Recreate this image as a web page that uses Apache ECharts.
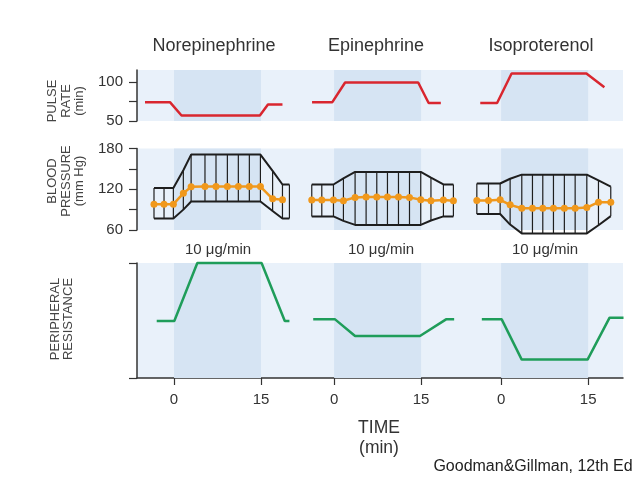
<!DOCTYPE html>
<html><head><meta charset="utf-8">
<script src="https://cdn.jsdelivr.net/npm/echarts@6/dist/echarts.min.js"></script>
<style>html,body{margin:0;padding:0;background:#fff}#c{width:640px;height:480px}</style>
</head><body><div id="c"></div>
<script>
// ---------- data ----------
const drugs = ['Norepinephrine', 'Epinephrine', 'Isoproterenol'];
const doseLabel = '10 μg/min';
const infusion = [0, 15];              // minutes (shaded infusion window)
const timeTickLabels = ['0', '15'];
const pulseTicks = [50, 75, 100];
const pulseLabels = [50, 100];
const bpTicks = [60, 90, 120, 150, 180];
const bpLabels = [60, 120, 180];

// pulse rate (beats/min)
const pulseTime = [
  [-5, -0.7, 1.3, 14.8, 16.2, 18.7],
  [-3.8, -0.3, 1.9, 14.5, 16.3, 18.4],
  [-3.6, -0.7, 1.8, 14.7, 17.8]
];
const pulseRate = [
  [74, 74, 57, 57, 71, 71],
  [74, 74, 99, 99, 73, 73],
  [73, 73, 110.5, 110.5, 93]
];

// blood pressure (mm Hg): systolic, diastolic, mean
const bpTime = [
  [-3.45, -1.72, -0.11, 1.61, 2.95, 5.34, 7.24, 9.2, 11.09, 12.99, 14.9, 17.0, 18.7, 19.9],
  [-3.85, -2.12, -0.11, 1.61, 3.62, 5.52, 7.36, 9.2, 11.1, 13.0, 14.94, 16.7, 18.85, 20.57],
  [-4.19, -2.18, -0.17, 1.55, 3.56, 5.4, 7.18, 9.02, 10.9, 12.76, 14.77, 16.78, 18.9]
];
const bpSystolic = [
  [122, 122, 122, 148, 171, 171, 171, 171, 171, 171, 171, 147, 127, 127],
  [127, 127, 127, 136, 145.5, 145.5, 145.5, 145.5, 145.5, 145.5, 145.5, 137, 127, 127],
  [128.5, 128.5, 128.5, 135.5, 141.5, 141.5, 141.5, 141.5, 141.5, 141.5, 141.5, 133, 124]
];
const bpDiastolic = [
  [77, 77, 77, 90, 102, 102, 102, 102, 102, 102, 102, 88, 77, 77],
  [80, 80, 80, 73.5, 67.5, 67.5, 67.5, 67.5, 67.5, 67.5, 67.5, 74, 80, 80],
  [83.5, 83.5, 83.5, 68, 55, 55, 55, 55, 55, 55, 55, 67, 80.5]
];
const bpMean = [
  [98, 98, 98, 114, 123.5, 124, 124, 124, 124, 124, 124, 106, 104.5, null],
  [104, 104, 104, 103, 108, 108.5, 108.5, 108.5, 108.5, 108, 104.5, 103, 104, 103],
  [103.5, 103.5, 104.5, 97, 92, 92, 92, 92, 92, 92, 93, 101, 101]
];

// peripheral resistance (relative units, 0-100)
const prTime = [
  [-2.98, 0.05, 4.02, 15.1, 19.1, 19.9],
  [-3.6, 0.17, 3.62, 14.8, 19.3, 20.7],
  [-3.33, 0.1, 3.55, 14.9, 18.7, 21.1]
];
const prValue = [
  [49.5, 49.5, 100, 100, 49.5, 49.5],
  [51, 51, 36.5, 36.5, 51, 51],
  [51, 51, 16, 16, 52.5, 52.5]
];

// ---------- layout ----------
const columnOffset = [0, 27.6, 56.4];   // panel placement along the shared time axis
const X_MIN = -6.38, X_MAX = 77.41;
const FONT = '"Liberation Sans", Arial, Helvetica, sans-serif';
const TXT = '#333';
const C_PULSE = '#d9262f', C_PR = '#1f9d5a', C_MEAN = '#f0981c', C_BOX = '#1e1e1e';
const BG = '#e9f1fa', BG_DARK = '#d6e4f3';

const xTickVals = [], xTickText = [];
columnOffset.forEach(o => infusion.forEach((t, i) => { xTickVals.push(o + t); xTickText.push(timeTickLabels[i]); }));

const grids = [
  { left: 137, width: 486, top: 70, height: 51 },
  { left: 137, width: 486, top: 148.5, height: 81.5 },
  { left: 137, width: 486, top: 263, height: 115 }
].map(g => Object.assign({ show: true, backgroundColor: BG, borderWidth: 0 }, g));

const xAxes = [0, 1, 2].map(i => ({
  type: 'value', gridIndex: i, min: X_MIN, max: X_MAX, show: i === 2,
  splitLine: { show: false },
  axisLine: { show: true, onZero: false, lineStyle: { color: TXT, width: 1.5 } },
  axisTick: { show: true, customValues: xTickVals, length: 7, lineStyle: { color: TXT, width: 1.2 } },
  axisLabel: {
    customValues: xTickVals, margin: 14, color: TXT, fontSize: 15, fontFamily: FONT,
    formatter: v => { const k = xTickVals.findIndex(x => Math.abs(x - v) < 1e-6); return k >= 0 ? xTickText[k] : ''; }
  }
}));

function yAx(i, min, max, ticks, labels) {
  return {
    type: 'value', gridIndex: i, min: min, max: max, position: 'left',
    splitLine: { show: false },
    axisLine: { show: true, onZero: false, lineStyle: { color: TXT, width: 1.5 } },
    axisTick: { show: true, customValues: ticks, length: 8, lineStyle: { color: TXT, width: 1.2 } },
    axisLabel: { show: labels.length > 0, customValues: labels.length ? labels : [min], margin: 14, color: TXT, fontSize: 15, fontFamily: FONT }
  };
}
const yAxes = [
  yAx(0, 50, 115, pulseTicks, pulseLabels),
  yAx(1, 60, 180, bpTicks, bpLabels),
  yAx(2, 0, 100, [0, 100], [])
];

const series = [];
const shade = columnOffset.map(o => [{ xAxis: o + infusion[0] }, { xAxis: o + infusion[1] }]);
[0, 1, 2].forEach(g => series.push({
  type: 'line', xAxisIndex: g, yAxisIndex: g, data: [], silent: true,
  markArea: { silent: true, itemStyle: { color: BG_DARK }, data: shade }
}));

drugs.forEach((d, c) => {
  const o = columnOffset[c];
  series.push({
    type: 'line', name: d + ' pulse', xAxisIndex: 0, yAxisIndex: 0, symbol: 'none', clip: false,
    lineStyle: { color: C_PULSE, width: 2.5 },
    data: pulseTime[c].map((t, k) => [t + o, pulseRate[c][k]])
  });
  series.push({
    type: 'custom', name: d + ' pulse pressure', xAxisIndex: 1, yAxisIndex: 1,
    encode: { x: 0, y: [1, 2] },
    renderItem: (params, api) => {
      const a = api.coord([api.value(0), api.value(1)]);
      const b = api.coord([api.value(0), api.value(2)]);
      return { type: 'line', shape: { x1: a[0], y1: a[1], x2: b[0], y2: b[1] }, style: { stroke: C_BOX, lineWidth: 1.2 } };
    },
    data: bpTime[c].map((t, k) => [t + o, bpSystolic[c][k], bpDiastolic[c][k]])
  });
  series.push({
    type: 'line', name: d + ' systolic', xAxisIndex: 1, yAxisIndex: 1, symbol: 'none', clip: false,
    lineStyle: { color: C_BOX, width: 2 },
    data: bpTime[c].map((t, k) => [t + o, bpSystolic[c][k]])
  });
  series.push({
    type: 'line', name: d + ' diastolic', xAxisIndex: 1, yAxisIndex: 1, symbol: 'none', clip: false,
    lineStyle: { color: C_BOX, width: 2 },
    data: bpTime[c].map((t, k) => [t + o, bpDiastolic[c][k]])
  });
  series.push({
    type: 'line', name: d + ' mean', xAxisIndex: 1, yAxisIndex: 1, clip: false,
    symbol: 'circle', symbolSize: 7, showAllSymbol: true, connectNulls: false,
    lineStyle: { color: C_MEAN, width: 2.5 }, itemStyle: { color: C_MEAN },
    data: bpTime[c].map((t, k) => [t + o, bpMean[c][k]]).filter(p => p[1] !== null),
    z: 4
  });
  series.push({
    type: 'line', name: d + ' resistance', xAxisIndex: 2, yAxisIndex: 2, symbol: 'none', clip: false,
    lineStyle: { color: C_PR, width: 2.5 },
    data: prTime[c].map((t, k) => [t + o, prValue[c][k]])
  });
});

function txt(x, y, s, size, extra) {
  return Object.assign({
    type: 'text', x: x, y: y, silent: true,
    style: Object.assign({ text: s, fill: TXT, font: size + 'px ' + FONT, align: 'center', verticalAlign: 'middle' }, extra || {})
  });
}
const graphics = [
  txt(214, 46, drugs[0], 18), txt(376, 46, drugs[1], 18), txt(541, 46, drugs[2], 18),
  txt(218, 250, doseLabel, 15), txt(381, 250, doseLabel, 15), txt(545, 250, doseLabel, 15),
  txt(379, 428, 'TIME', 17.5), txt(379, 448, '(min)', 17.5),
  txt(533, 467, 'Goodman&Gillman, 12th Ed', 16, { fill: '#222' })
];
[['PULSE\nRATE\n(min)', 66, 101], ['BLOOD\nPRESSURE\n(mm Hg)', 66, 181], ['PERIPHERAL\nRESISTANCE', 62, 319]].forEach(r => {
  const t = txt(r[1], r[2], r[0], 13, { lineHeight: 13.5, fill: '#444' });
  t.rotation = Math.PI / 2;
  graphics.push(t);
});

const chart = echarts.init(document.getElementById('c'), null, { renderer: 'canvas' });
chart.setOption({
  animation: false,
  backgroundColor: '#fff',
  grid: grids, xAxis: xAxes, yAxis: yAxes, series: series,
  graphic: graphics
});
</script></body></html>
